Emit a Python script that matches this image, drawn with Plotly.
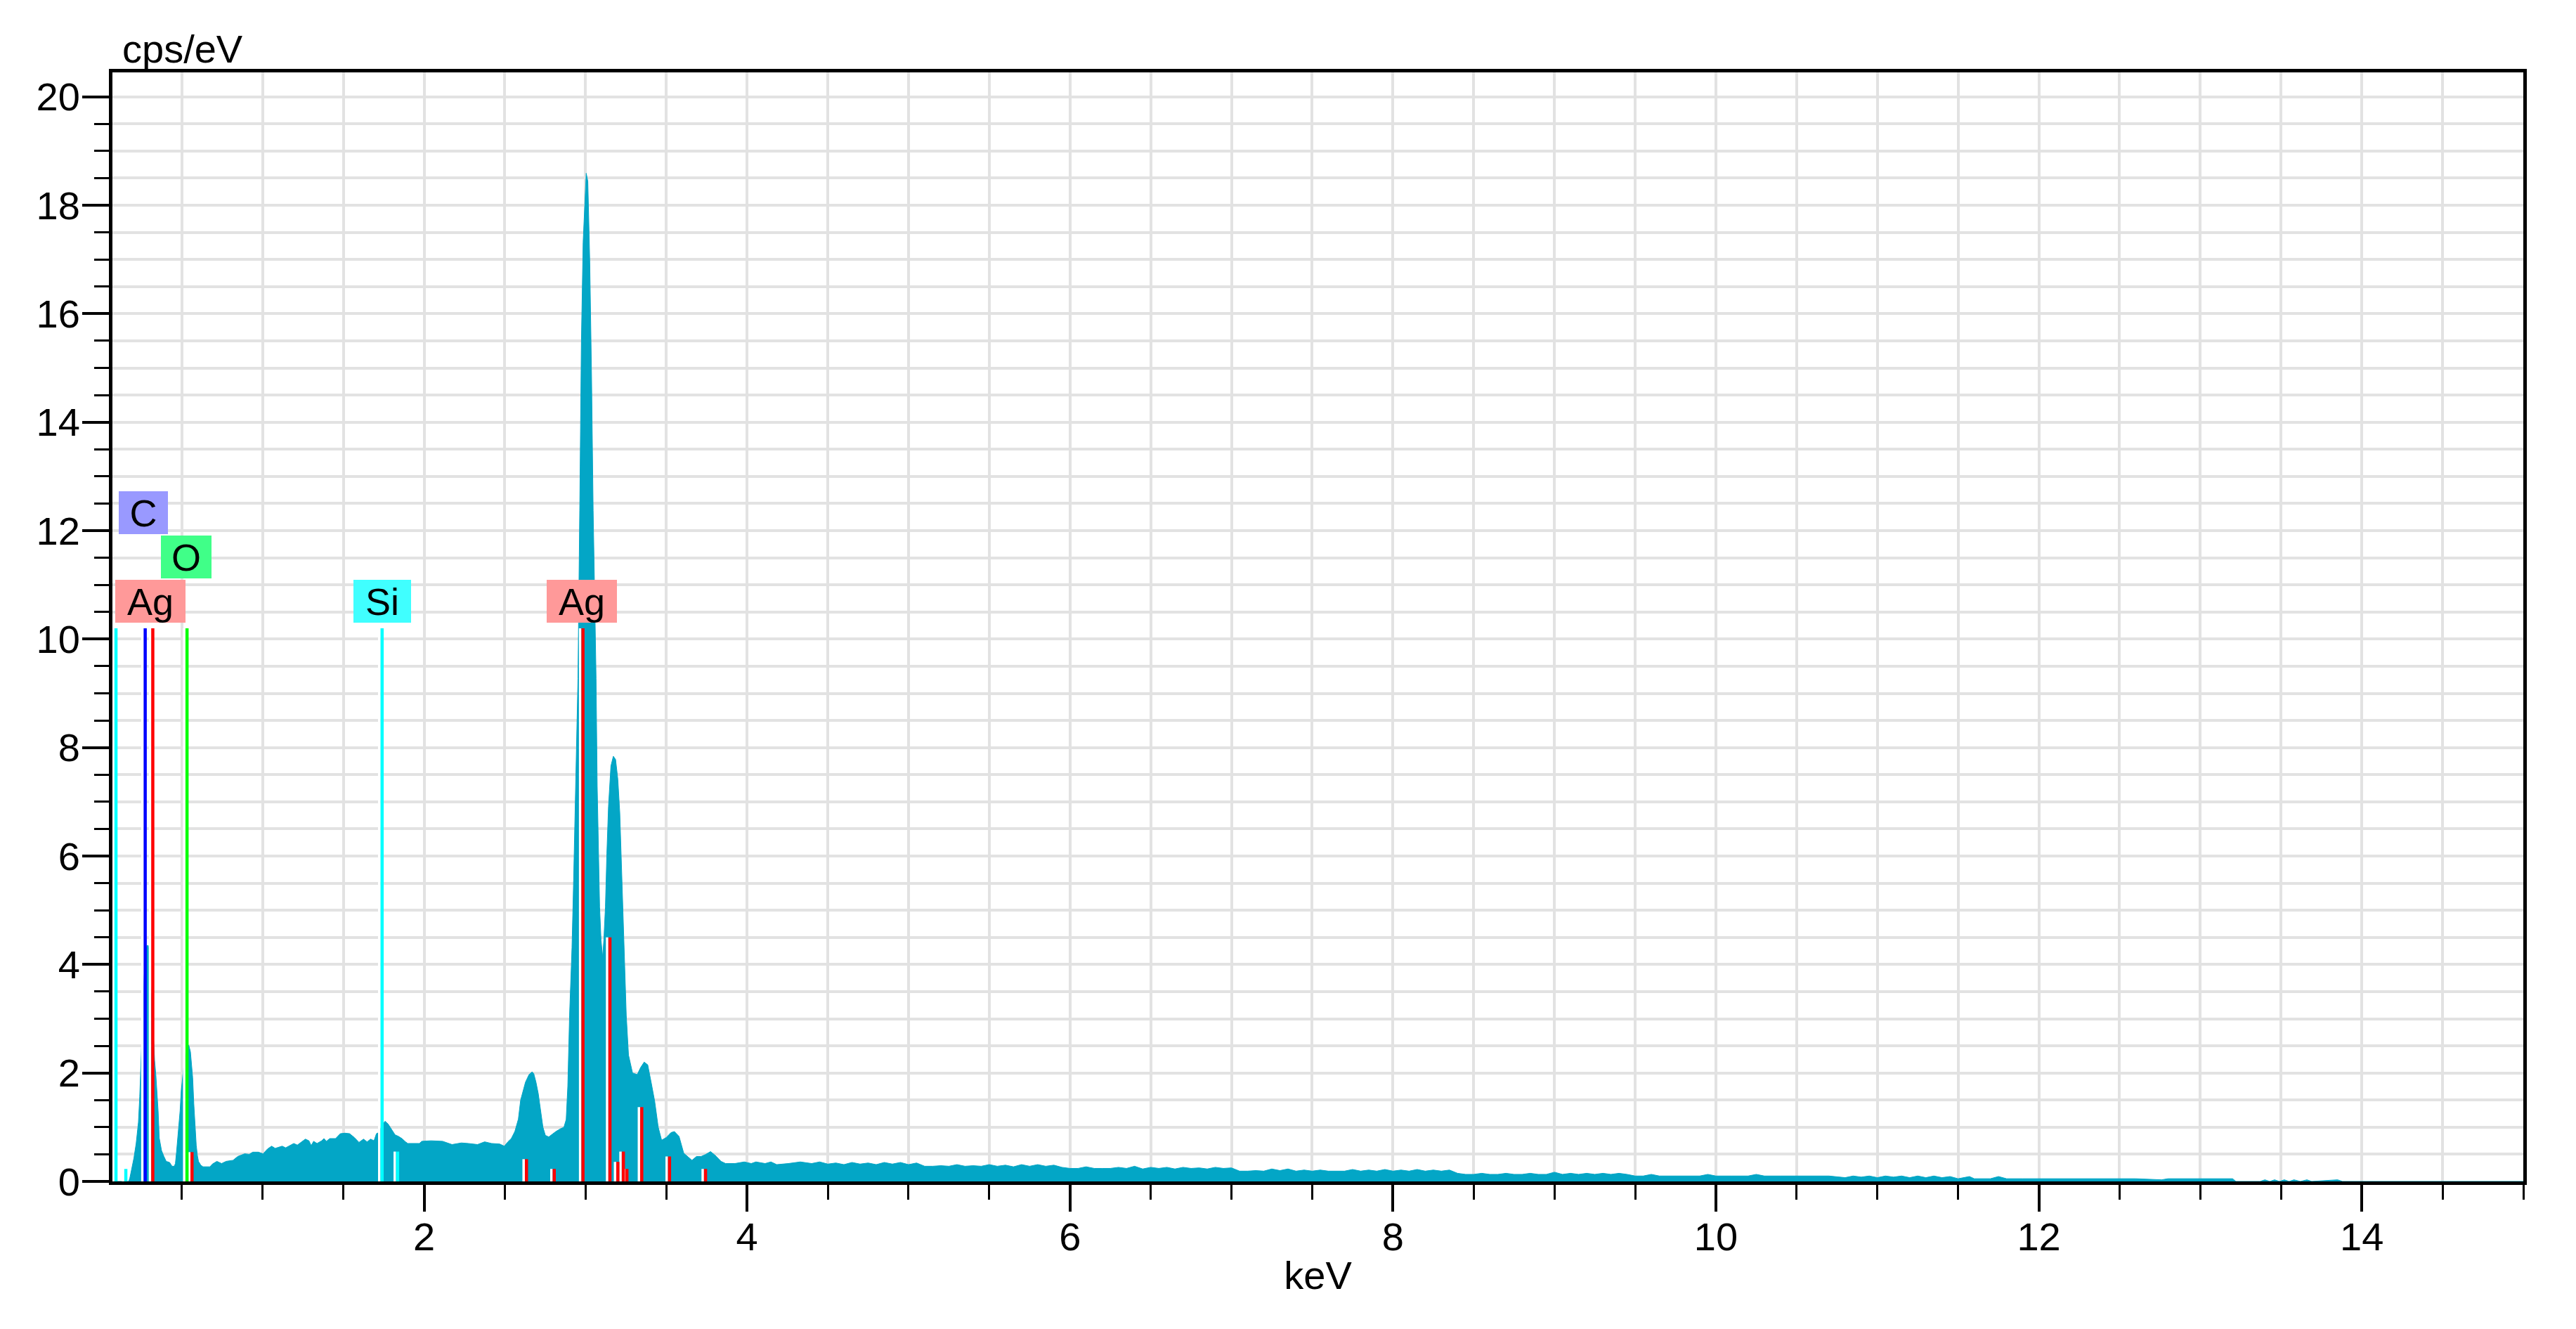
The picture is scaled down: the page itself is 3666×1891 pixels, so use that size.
"""EDS spectrum figure: cps/eV against keV with element line markers."""

from __future__ import annotations

import plotly.graph_objects as go

# spectrum (keV, cps/eV)
ENERGY_KEV = [
    0.07, 0.170, 0.177, 0.189, 0.203, 0.217, 0.231, 0.239, 0.246, 0.256,
    0.266, 0.280, 0.285, 0.292, 0.298, 0.306, 0.318, 0.331, 0.339, 0.346,
    0.353, 0.360, 0.367, 0.374, 0.389, 0.403, 0.424, 0.439, 0.453, 0.460,
    0.467, 0.474, 0.481, 0.489, 0.496, 0.503, 0.515, 0.530, 0.543, 0.553,
    0.560, 0.567, 0.574, 0.581, 0.589, 0.596, 0.603, 0.617, 0.631, 0.674,
    0.689, 0.717, 0.746, 0.774, 0.817, 0.846, 0.889, 0.917, 0.939, 0.974,
    1.003, 1.031, 1.056, 1.078, 1.107, 1.121, 1.143, 1.164, 1.193, 1.215,
    1.236, 1.265, 1.287, 1.301, 1.316, 1.337, 1.366, 1.380, 1.395, 1.416,
    1.452, 1.481, 1.510, 1.539, 1.568, 1.597, 1.625, 1.647, 1.669, 1.690,
    1.705, 1.719, 1.735, 1.758, 1.777, 1.798, 1.820, 1.842, 1.863, 1.885,
    1.899, 1.971, 1.986, 2.043, 2.115, 2.173, 2.231, 2.274, 2.331, 2.375,
    2.418, 2.468, 2.497, 2.519, 2.540, 2.562, 2.584, 2.598, 2.614, 2.628,
    2.650, 2.669, 2.679, 2.693, 2.707, 2.722, 2.736, 2.751, 2.772, 2.794,
    2.816, 2.844, 2.866, 2.880, 2.890, 2.901, 2.916, 2.926, 2.935, 2.945,
    2.953, 2.964, 2.974, 2.985, 2.996, 3.004, 3.014, 3.026, 3.037, 3.047,
    3.058, 3.065, 3.072, 3.081, 3.087, 3.096, 3.106, 3.113, 3.123, 3.132,
    3.142, 3.157, 3.172, 3.186, 3.200, 3.212, 3.223, 3.237, 3.252, 3.266,
    3.291, 3.320, 3.341, 3.363, 3.385, 3.406, 3.428, 3.450, 3.471, 3.500,
    3.529, 3.550, 3.579, 3.608, 3.637, 3.659, 3.687, 3.716, 3.745, 3.774,
    3.803, 3.839, 3.867, 3.925, 3.983, 4.026, 4.055, 4.112, 4.148, 4.184,
    4.256, 4.330, 4.40, 4.45, 4.50, 4.55, 4.60, 4.65, 4.70, 4.75,
    4.80, 4.85, 4.90, 4.95, 5.00, 5.05, 5.10, 5.15, 5.20, 5.25,
    5.30, 5.35, 5.40, 5.45, 5.50, 5.55, 5.60, 5.65, 5.70, 5.75,
    5.80, 5.85, 5.90, 5.95, 6.00, 6.05, 6.10, 6.15, 6.20, 6.25,
    6.30, 6.35, 6.40, 6.45, 6.50, 6.55, 6.60, 6.65, 6.70, 6.75,
    6.80, 6.85, 6.90, 6.95, 7.00, 7.05, 7.10, 7.15, 7.20, 7.25,
    7.30, 7.35, 7.40, 7.45, 7.50, 7.55, 7.60, 7.65, 7.70, 7.75,
    7.80, 7.85, 7.90, 7.95, 8.00, 8.05, 8.10, 8.15, 8.20, 8.25,
    8.30, 8.35, 8.40, 8.45, 8.50, 8.55, 8.60, 8.65, 8.70, 8.75,
    8.80, 8.85, 8.90, 8.95, 9.00, 9.05, 9.10, 9.15, 9.20, 9.25,
    9.30, 9.35, 9.40, 9.45, 9.50, 9.55, 9.60, 9.65, 9.70, 9.75,
    9.80, 9.85, 9.90, 9.95, 10.00, 10.10, 10.20, 10.25, 10.30, 10.40,
    10.50, 10.60, 10.70, 10.80, 10.85, 10.90, 10.95, 11.00, 11.05, 11.10,
    11.15, 11.20, 11.25, 11.30, 11.35, 11.40, 11.45, 11.50, 11.57, 11.60,
    11.70, 11.75, 11.80, 11.90, 12.00, 12.20, 12.40, 12.60, 12.76, 12.80,
    13.00, 13.20, 13.22, 13.37, 13.40, 13.43, 13.46, 13.49, 13.52, 13.55,
    13.58, 13.62, 13.66, 13.69, 13.85, 13.88, 14.00, 15.00,
]
CPS_PER_EV = [
    0.0, 0.0, 0.05, 0.22, 0.43, 0.70, 1.09, 1.56, 2.17, 3.00,
    3.75, 4.30, 4.35, 4.35, 4.20, 3.70, 2.90, 2.24, 1.96, 1.65,
    1.30, 0.80, 0.65, 0.57, 0.46, 0.37, 0.35, 0.28, 0.28, 0.33,
    0.54, 0.78, 1.09, 1.30, 1.67, 1.85, 2.20, 2.50, 2.51, 2.39,
    2.13, 1.91, 1.43, 1.00, 0.67, 0.48, 0.37, 0.30, 0.27, 0.27,
    0.32, 0.37, 0.33, 0.37, 0.39, 0.46, 0.51, 0.50, 0.54, 0.54,
    0.51, 0.60, 0.65, 0.61, 0.64, 0.65, 0.62, 0.65, 0.70, 0.67,
    0.72, 0.78, 0.75, 0.66, 0.74, 0.70, 0.75, 0.79, 0.74, 0.79,
    0.79, 0.88, 0.89, 0.88, 0.81, 0.72, 0.78, 0.73, 0.78, 0.75,
    0.88, 0.90, 1.00, 1.11, 1.06, 0.97, 0.86, 0.83, 0.79, 0.73,
    0.70, 0.70, 0.74, 0.75, 0.74, 0.68, 0.71, 0.70, 0.68, 0.73,
    0.70, 0.69, 0.65, 0.73, 0.79, 0.92, 1.15, 1.50, 1.66, 1.83,
    1.97, 2.02, 1.99, 1.83, 1.62, 1.27, 1.00, 0.85, 0.82, 0.87,
    0.92, 0.97, 1.00, 1.14, 1.75, 3.07, 4.31, 5.55, 6.79, 8.03,
    9.27, 12.37, 15.46, 17.32, 18.19, 18.59, 18.44, 16.95, 14.85, 12.37,
    10.51, 9.27, 7.29, 6.17, 5.06, 4.44, 4.13, 4.44, 5.06, 6.05,
    6.91, 7.66, 7.84, 7.78, 7.41, 6.79, 5.80, 4.31, 3.07, 2.33,
    2.00, 1.97, 2.10, 2.20, 2.15, 1.83, 1.48, 1.00, 0.76, 0.81,
    0.90, 0.92, 0.83, 0.52, 0.44, 0.39, 0.46, 0.46, 0.50, 0.55,
    0.48, 0.37, 0.33, 0.33, 0.36, 0.33, 0.36, 0.33, 0.36, 0.31,
    0.33, 0.36, 0.33, 0.36, 0.32, 0.34, 0.31, 0.35, 0.32, 0.34,
    0.31, 0.35, 0.32, 0.35, 0.31, 0.34, 0.28, 0.28, 0.29, 0.28,
    0.31, 0.28, 0.29, 0.28, 0.31, 0.28, 0.30, 0.27, 0.31, 0.28,
    0.31, 0.28, 0.30, 0.26, 0.24, 0.24, 0.27, 0.24, 0.24, 0.24,
    0.26, 0.24, 0.28, 0.23, 0.26, 0.24, 0.26, 0.23, 0.26, 0.24,
    0.25, 0.23, 0.26, 0.24, 0.25, 0.19, 0.19, 0.20, 0.19, 0.23,
    0.20, 0.23, 0.19, 0.21, 0.19, 0.21, 0.19, 0.19, 0.19, 0.22,
    0.19, 0.21, 0.19, 0.22, 0.19, 0.21, 0.19, 0.22, 0.19, 0.21,
    0.19, 0.21, 0.15, 0.13, 0.13, 0.15, 0.13, 0.13, 0.15, 0.13,
    0.13, 0.15, 0.13, 0.13, 0.17, 0.13, 0.15, 0.13, 0.15, 0.13,
    0.15, 0.13, 0.15, 0.13, 0.10, 0.10, 0.13, 0.10, 0.10, 0.10,
    0.10, 0.10, 0.10, 0.13, 0.10, 0.10, 0.10, 0.13, 0.10, 0.10,
    0.10, 0.10, 0.10, 0.07, 0.10, 0.08, 0.10, 0.07, 0.10, 0.08,
    0.10, 0.07, 0.10, 0.07, 0.10, 0.07, 0.09, 0.05, 0.09, 0.05,
    0.05, 0.09, 0.05, 0.05, 0.05, 0.05, 0.05, 0.05, 0.03, 0.05,
    0.05, 0.05, 0.0, 0.0, 0.03, 0.0, 0.03, 0.0, 0.03, 0.0,
    0.03, 0.0, 0.03, 0.0, 0.03, 0.0, 0.0, 0.0,
]

# element line markers
LINE_ENERGY_KEV = [
    0.092, 0.153, 0.273, 0.320, 0.532, 0.563, 1.740, 1.836, 2.634,
    2.806, 2.984, 3.151, 3.200, 3.234, 3.256, 3.348, 3.520, 3.743,
]
LINE_HEIGHT = [
    10.2, 0.23, 10.2, 10.2, 10.2, 0.54, 10.2, 0.55, 0.41,
    0.23, 10.2, 4.5, 0.36, 0.55, 0.23, 1.37, 0.46, 0.23,
]
LINE_ELEMENT = [
    "Si", "Si", "C", "Ag", "O", "Ag", "Si", "Si", "Ag",
    "Ag", "Ag", "Ag", "Ag", "Ag", "Ag", "Ag", "Ag", "Ag",
]

LABEL_ELEMENT = ["Ag", "C", "O", "Si", "Ag"]
LABEL_ENERGY_KEV = [0.305, 0.262, 0.527, 1.740, 2.975]
LABEL_ROW = [0, 2, 1, 0, 0]

X_TICKS = [2, 4, 6, 8, 10, 12, 14]
Y_TICKS = [0, 2, 4, 6, 8, 10, 12, 14, 16, 18, 20]

_FONT = "Arial, 'Liberation Sans', sans-serif"
_TEXT_SIZE = 56
_SPECTRUM_COLOR = "#03a6c6"
_GRID_COLOR = "#e2e2e2"
_LINE_COLOR = {"Si": "#00ffff", "C": "#0000ff", "O": "#00ff00", "Ag": "#ff0000"}
_LABEL_COLOR = {"Si": "#40ffff", "C": "#9999ff", "O": "#40ff88", "Ag": "#ff9999"}
_LABEL_WIDTH = {"Si": 82, "C": 70, "O": 72, "Ag": 100}
_LABEL_BASE = 10.3
_LABEL_STEP = 0.817
_WHITE_SHIFT_KEV = 0.0175


def _axis(extra: dict[str, object] | None = None) -> dict[str, object]:
    axis: dict[str, object] = {
        "tickmode": "array",
        "ticks": "outside",
        "ticklen": 38,
        "tickwidth": 4,
        "tickcolor": "black",
        "tickfont": {"family": _FONT, "size": _TEXT_SIZE, "color": "black"},
        "showgrid": True,
        "gridcolor": _GRID_COLOR,
        "gridwidth": 4,
        "minor": {
            "dtick": 0.5,
            "tick0": 0,
            "ticks": "outside",
            "ticklen": 21,
            "tickwidth": 3,
            "tickcolor": "black",
            "showgrid": True,
            "gridcolor": _GRID_COLOR,
            "gridwidth": 4,
        },
        "showline": True,
        "linecolor": "black",
        "linewidth": 5,
        "mirror": True,
        "zeroline": False,
    }
    if extra:
        axis.update(extra)
    return axis


def _marker_path(element: str, shift: float) -> tuple[list, list]:
    xs: list = []
    ys: list = []
    for energy, height, name in zip(LINE_ENERGY_KEV, LINE_HEIGHT, LINE_ELEMENT):
        if name != element:
            continue
        xs += [energy + shift, energy + shift, None]
        ys += [0, height, None]
    return xs, ys


fig = go.Figure()
fig.add_trace(
    go.Scatter(
        x=ENERGY_KEV,
        y=CPS_PER_EV,
        mode="lines",
        fill="tozeroy",
        fillcolor=_SPECTRUM_COLOR,
        line={"color": _SPECTRUM_COLOR, "width": 1},
        showlegend=False,
        hoverinfo="skip",
    )
)

# white stripe to the left of each line, then the coloured line itself
for element in _LINE_COLOR:
    xs, ys = _marker_path(element, -_WHITE_SHIFT_KEV)
    fig.add_trace(
        go.Scatter(x=xs, y=ys, mode="lines", line={"color": "white", "width": 3.5},
                   showlegend=False, hoverinfo="skip")
    )
for element, color in _LINE_COLOR.items():
    xs, ys = _marker_path(element, 0.0)
    fig.add_trace(
        go.Scatter(x=xs, y=ys, mode="lines", line={"color": color, "width": 4.5},
                   showlegend=False, hoverinfo="skip")
    )

annotations = [
    {
        "text": name,
        "x": energy,
        "y": _LABEL_BASE + row * _LABEL_STEP,
        "xref": "x",
        "yref": "y",
        "xanchor": "center",
        "yanchor": "bottom",
        "showarrow": False,
        "bgcolor": _LABEL_COLOR[name],
        "width": _LABEL_WIDTH[name],
        "height": 61,
        "borderpad": 0,
        "borderwidth": 0,
        "font": {"family": _FONT, "size": 54, "color": "black"},
    }
    for name, energy, row in zip(LABEL_ELEMENT, LABEL_ENERGY_KEV, LABEL_ROW)
]
annotations.append(
    {
        "text": "cps/eV",
        "xref": "paper",
        "yref": "paper",
        "x": 0,
        "y": 1,
        "xanchor": "left",
        "yanchor": "bottom",
        "xshift": 12,
        "yshift": 0,
        "showarrow": False,
        "font": {"family": _FONT, "size": _TEXT_SIZE, "color": "black"},
    }
)

# page body keeps its 8 px margin, so the figure is 16 px smaller than the window
fig.update_layout(
    width=3650,
    height=1875,
    margin={"l": 152, "r": 67, "t": 95, "b": 202},
    paper_bgcolor="white",
    plot_bgcolor="white",
    showlegend=False,
    annotations=annotations,
    xaxis=_axis(
        {
            "range": [0.07, 15.0],
            "tickvals": X_TICKS,
            "ticklabelstandoff": -12,
            "title": {
                "text": "keV",
                "font": {"family": _FONT, "size": _TEXT_SIZE, "color": "black"},
                "standoff": 6,
            },
        }
    ),
    yaxis=_axis({"range": [0, 20.45], "tickvals": Y_TICKS, "ticklabelstandoff": -8}),
)

fig.write_html("out.html")
